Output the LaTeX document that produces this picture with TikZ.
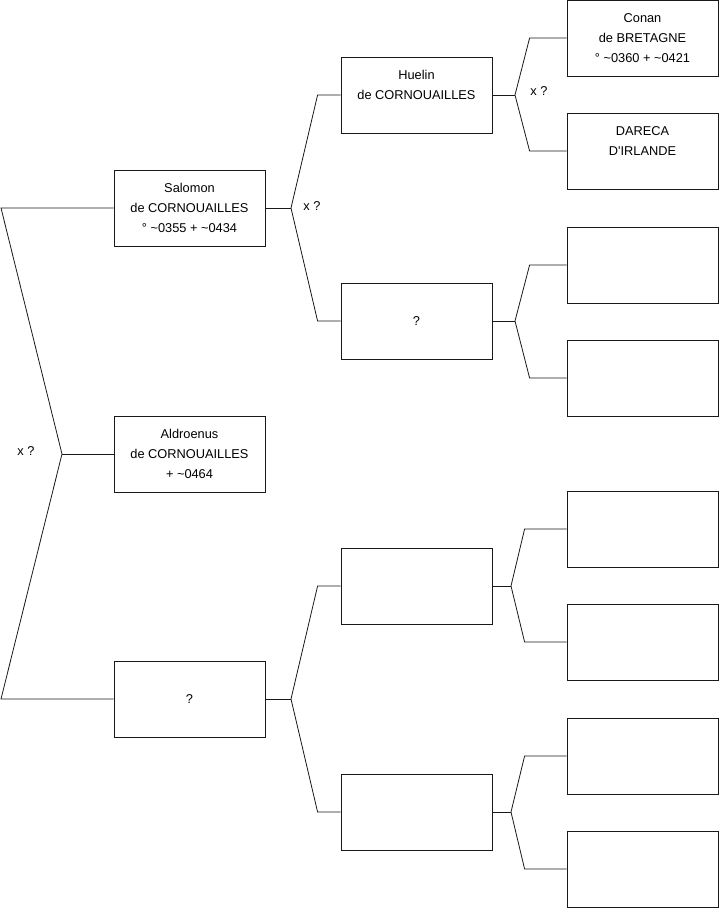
\documentclass[tikz,border=0pt]{standalone}
\usepackage{fontspec}
\setmainfont{Liberation Sans}
\usepackage{tikz}
\usetikzlibrary{calc, positioning}

\begin{document}
\begin{tikzpicture}[x=1pt, y=-1pt,
      font=\fontsize{12.8}{20}\selectfont,
      pers/.style={draw=black!90, line width=0.8pt, minimum width=151pt, minimum height=76pt,
                   inner sep=0pt, align=center},
      lien/.style={draw=black!90, line width=0.8pt}
    ]
    \useasboundingbox (0,0) rectangle (719,908);

    % Generation 1
    \node[pers] (sal)  at (189.5,208) {Salomon\\de CORNOUAILLES\\° \textasciitilde0355 + \textasciitilde0434};
    \node[pers] (ald)  at (189.5,454) {Aldroenus\\de CORNOUAILLES\\+ \textasciitilde0464};
    \node[pers] (inc1) at (189.5,699) {?};

    % Generation 2
    \node[pers] (hue)  at (416.5,95)  {Huelin\\de CORNOUAILLES\\~};
    \node[pers] (inc2) at (416.5,321) {?};
    \node[pers] (vid1) at (416.5,586) {};
    \node[pers] (vid2) at (416.5,812) {};

    % Generation 3
    \node[pers] (con)  at (642.5,38)  {Conan\\de BRETAGNE\\° \textasciitilde0360 + \textasciitilde0421};
    \node[pers] (dar)  at (642.5,151) {DARECA\\D\textquotesingle IRLANDE\\~};
    \node[pers] (vid3) at (642.5,265) {};
    \node[pers] (vid4) at (642.5,378) {};
    \node[pers] (vid5) at (642.5,529) {};
    \node[pers] (vid6) at (642.5,642) {};
    \node[pers] (vid7) at (642.5,756) {};
    \node[pers] (vid8) at (642.5,869) {};

    % Fourche de gauche (racine)
    \coordinate (r0) at (62,454);
    \coordinate (r1) at (1,208);
    \coordinate (r2) at (1,699);
    \draw[lien] (sal.west) -- (r1) -- (r0) -- (r2) -- (inc1.west);
    \draw[lien] (r0) -- (ald.west);
    \node (x0) at (26,451) {x ?};

    % Fourches generation 1 -> 2
    \coordinate (f1) at (291,208);
    \draw[lien] (sal.east) -- (f1);
    \draw[lien] (hue.west) -- ++(-23,0) -- (f1) -- ($(inc2.west)+(-23,0)$) -- (inc2.west);
    \node (x1) at (312,206) {x ?};

    \coordinate (f2) at (291,699);
    \draw[lien] (inc1.east) -- (f2);
    \draw[lien] (vid1.west) -- ++(-23,0) -- (f2) -- ($(vid2.west)+(-23,0)$) -- (vid2.west);

    % Fourches generation 2 -> 3
    \coordinate (f3) at (515,95);
    \draw[lien] (hue.east) -- (f3);
    \draw[lien] (con.west) -- ++(-37,0) -- (f3) -- ($(dar.west)+(-37,0)$) -- (dar.west);
    \node (x2) at (539,91) {x ?};

    \coordinate (f4) at (515,321);
    \draw[lien] (inc2.east) -- (f4);
    \draw[lien] (vid3.west) -- ++(-37,0) -- (f4) -- ($(vid4.west)+(-37,0)$) -- (vid4.west);

    \coordinate (f5) at (511,586);
    \draw[lien] (vid1.east) -- (f5);
    \draw[lien] (vid5.west) -- ++(-42,0) -- (f5) -- ($(vid6.west)+(-42,0)$) -- (vid6.west);

    \coordinate (f6) at (511,812);
    \draw[lien] (vid2.east) -- (f6);
    \draw[lien] (vid7.west) -- ++(-42,0) -- (f6) -- ($(vid8.west)+(-42,0)$) -- (vid8.west);
  \end{tikzpicture}
\end{document}
